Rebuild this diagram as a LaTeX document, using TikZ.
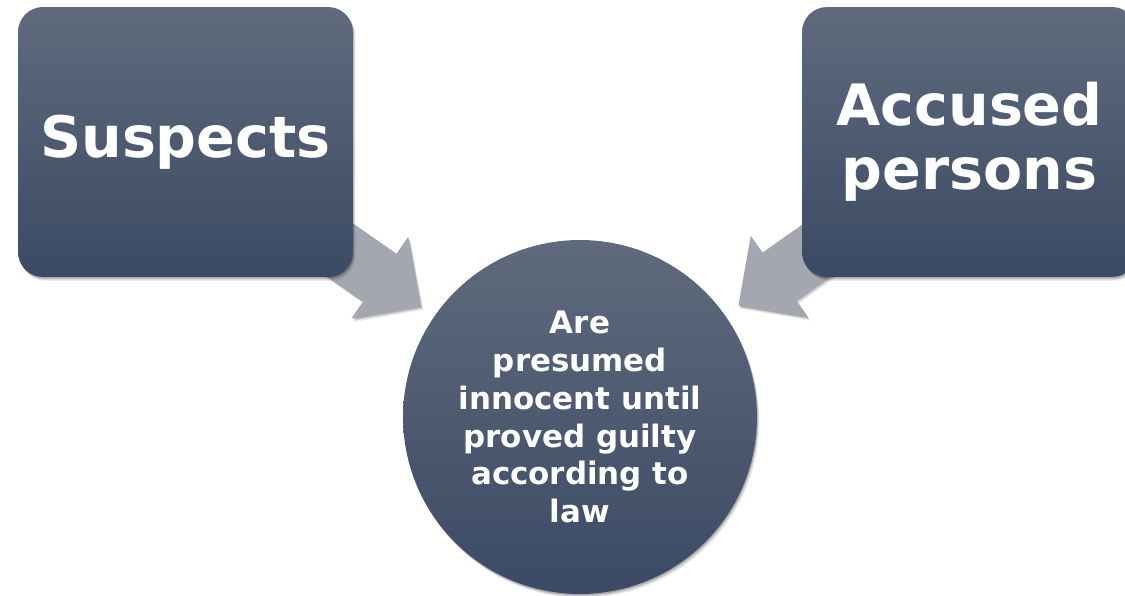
\documentclass[tikz,border=0pt]{standalone}
\usepackage{fontspec}
\setmainfont{DejaVu Sans}
\usetikzlibrary{calc,shadows}

\definecolor{slatetop}{HTML}{5F6A7C}
\definecolor{slatebot}{HTML}{3B4A64}
\definecolor{arrowgray}{HTML}{A4A7AF}

\pgfdeclarelayer{back}
\pgfsetlayers{back,main}

\tikzset{
  softshadow/.style={
      general shadow={shadow xshift=1.4pt, shadow yshift=-2.2pt, fill=black, opacity=0.08},
      general shadow={shadow xshift=0.9pt, shadow yshift=-1.5pt, fill=black, opacity=0.12},
      general shadow={shadow xshift=0.4pt, shadow yshift=-0.8pt, fill=black, opacity=0.18}},
  tile/.style={rectangle, rounded corners=0.5cm, minimum width=6.7cm,
      minimum height=5.4cm, inner sep=0pt, top color=slatetop,
      bottom color=slatebot, text=white, align=center,
      font=\bfseries\fontsize{32.5pt}{36.4pt}\selectfont, softshadow},
  hub/.style={circle, minimum size=7.08cm, inner sep=0pt, top color=slatetop,
      bottom color=slatebot, text=white, align=center,
      font=\bfseries\fontsize{17.6pt}{21.6pt}\selectfont, softshadow},
  chevron/.style={fill=arrowgray, softshadow}
}

% Block arrow pointing from node #1 towards node #2, tip held a fixed gap off #2
\newcommand\slabarrow[2]{%
  \coordinate (tipA) at ($(#2.center)!3.88cm!(#1.center)$);
  \coordinate (tipB) at ($(#2.center)!4.88cm!(#1.center)$);
  \coordinate (tipC) at ($(#2.center)!7.88cm!(#1.center)$);
  \fill[chevron]
    ($(tipC)!0.58cm!90:(tipA)$) -- ($(tipB)!0.58cm!90:(tipA)$) --
    ($(tipB)!0.99cm!90:(tipA)$) -- (tipA) --
    ($(tipB)!0.99cm!-90:(tipA)$) -- ($(tipB)!0.58cm!-90:(tipA)$) --
    ($(tipC)!0.58cm!-90:(tipA)$) -- cycle;
}

\begin{document}
\begin{tikzpicture}[x=0.02cm,y=0.02cm]
  \useasboundingbox (0,0) rectangle (1125,595);
  \clip (0,0) rectangle (1125,595);

  \node[tile] (sus) at (185.5,453) {Suspects};
  \node[tile] (acc) at (969.5,453) {Accused\\persons};
  \node[hub] (pres) at (580,178)
    {Are\\presumed\\innocent until\\proved guilty\\according to\\law};

  \begin{pgfonlayer}{back}
    \slabarrow{sus}{pres}
    \slabarrow{acc}{pres}
  \end{pgfonlayer}
\end{tikzpicture}
\end{document}
